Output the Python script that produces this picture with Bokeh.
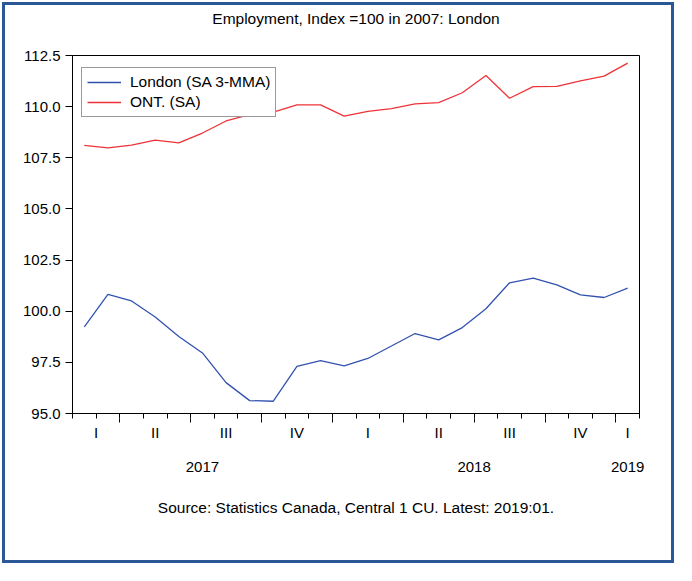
from bokeh.plotting import figure
from bokeh.models import (Range1d, FixedTicker, LinearAxis, Legend, LegendItem,
                          NumeralTickFormatter)
from bokeh.embed import file_html
from bokeh.resources import INLINE

# ---------------- data ----------------
months = ["2017:02", "2017:03", "2017:04", "2017:05", "2017:06", "2017:07",
          "2017:08", "2017:09", "2017:10", "2017:11", "2017:12", "2018:01",
          "2018:02", "2018:03", "2018:04", "2018:05", "2018:06", "2018:07",
          "2018:08", "2018:09", "2018:10", "2018:11", "2018:12", "2019:01"]
london = [99.23, 100.82, 100.50, 99.72, 98.76, 97.96, 96.51, 95.63, 95.60,
          97.30, 97.58, 97.33, 97.69, 98.30, 98.91, 98.60, 99.20, 100.12,
          101.39, 101.62, 101.29, 100.80, 100.67, 101.13]
ont = [108.11, 107.98, 108.12, 108.36, 108.23, 108.71, 109.30, 109.61, 109.73,
       110.09, 110.09, 109.54, 109.77, 109.90, 110.14, 110.20, 110.68, 111.52,
       110.41, 110.98, 110.99, 111.26, 111.49, 112.13]
y_ticks = [95.0, 97.5, 100.0, 102.5, 105.0, 107.5, 110.0, 112.5]
roman = ["I", "II", "III", "IV"]
title_text = "Employment, Index =100 in 2007: London"
source_text = "Source: Statistics Canada, Central 1 CU. Latest: 2019:01."

# ---------------- derived axis positions ----------------
x = list(range(len(months)))
yrs = [int(m[:4]) for m in months]
mos = [int(m[5:]) for m in months]
qkeys = [(yy, (mm - 1) // 3) for yy, mm in zip(yrs, mos)]
q_order = []
for k in qkeys:
    if k not in q_order:
        q_order.append(k)
q_centers = []
for k in q_order:
    idx = [i for i, kk in enumerate(qkeys) if kk == k]
    q_centers.append(sum(idx) / len(idx))
q_labels = [roman[k[1]] for k in q_order]
y_order = []
for yy in yrs:
    if yy not in y_order:
        y_order.append(yy)
y_centers = []
for yy in y_order:
    idx = [i for i, v in enumerate(yrs) if v == yy]
    y_centers.append(sum(idx) / len(idx))
q_bounds = [i - 0.5 for i, mm in enumerate(mos) if mm in (1, 4, 7, 10) and i > 0]
m_bounds = [i - 0.5 for i in range(len(months) + 1)]

FONT = "Liberation Sans"
W, H = 676, 565

p = figure(width=W, height=H, output_backend="svg", toolbar_location=None,
           x_range=Range1d(-0.5, len(months) - 0.5), y_range=Range1d(95, 112.5),
           x_axis_type=None, y_axis_type=None,
           min_border_left=72, min_border_right=37, min_border_top=55,
           min_border_bottom=152)
# blue outer border: CSS outline on the plot element, visible through a
# transparent border area
p.styles = {"outline": "3px solid #2B5797", "outline-offset": "-5px",
            "background-color": "white"}
p.background_fill_color = "white"
p.border_fill_color = None
p.outline_line_color = "black"
p.outline_line_width = 1
p.outline_line_alpha = 1

# title as the label of a bare axis above the frame
top = LinearAxis(ticker=FixedTicker(ticks=[]), axis_line_color=None,
                 major_tick_line_color=None, minor_tick_line_color=None,
                 major_tick_out=0, minor_tick_out=0, major_label_standoff=0,
                 axis_label=title_text, axis_label_standoff=29,
                 axis_label_text_font=FONT, axis_label_text_font_size="15.5px",
                 axis_label_text_font_style="normal",
                 axis_label_text_color="black")
p.add_layout(top, "above")

# y axis
yaxis = LinearAxis(ticker=FixedTicker(ticks=y_ticks),
                   formatter=NumeralTickFormatter(format="0.0"),
                   major_tick_out=7, major_tick_in=0,
                   minor_tick_line_color=None,
                   major_label_standoff=5,
                   major_label_text_font=FONT,
                   major_label_text_font_size="15px",
                   major_label_text_color="black",
                   axis_line_color="black", major_tick_line_color="black")
p.add_layout(yaxis, "left")

# x axis: month tick marks
xa = LinearAxis(ticker=FixedTicker(ticks=[], minor_ticks=m_bounds),
                major_tick_out=0, major_tick_in=0,
                minor_tick_out=5, minor_tick_in=0,
                major_label_standoff=0,
                axis_line_color="black", minor_tick_line_color="black")
p.add_layout(xa, "below")

# quarter tick extension + quarter labels
xb = LinearAxis(ticker=FixedTicker(ticks=q_centers, minor_ticks=q_bounds),
                major_label_overrides={c: l for c, l in zip(q_centers, q_labels)},
                major_tick_out=0, major_tick_in=0, major_tick_line_color=None,
                minor_tick_out=4, minor_tick_in=0, minor_tick_line_color="black",
                axis_line_color=None,
                major_label_standoff=1,
                major_label_text_font=FONT,
                major_label_text_font_size="15px",
                major_label_text_color="black")
p.add_layout(xb, "below")

# year labels + source note
xc = LinearAxis(ticker=FixedTicker(ticks=y_centers),
                major_label_overrides={c: str(v) for c, v in zip(y_centers, y_order)},
                axis_line_color=None, major_tick_line_color=None,
                minor_tick_line_color=None, major_tick_out=0, minor_tick_out=0,
                major_label_standoff=18,
                major_label_text_font=FONT,
                major_label_text_font_size="15px",
                major_label_text_color="black",
                axis_label=source_text,
                axis_label_standoff=24,
                axis_label_text_font=FONT,
                axis_label_text_font_size="15.5px",
                axis_label_text_font_style="normal",
                axis_label_text_color="black")
p.add_layout(xc, "below")

r1 = p.line(x, london, line_color="#3352B0", line_width=1.3)
r2 = p.line(x, ont, line_color="#EE3338", line_width=1.3)

legend = Legend(items=[LegendItem(label="London (SA 3-MMA)", renderers=[r1]),
                       LegendItem(label="ONT. (SA)", renderers=[r2])],
                location=(9, 296), margin=0, padding=5, spacing=2,
                label_height=16, glyph_height=16, glyph_width=34,
                label_standoff=9,
                label_text_font=FONT, label_text_font_size="15.5px",
                label_text_color="black",
                border_line_color="#333333", border_line_width=1,
                background_fill_color="white", background_fill_alpha=1)
p.add_layout(legend)

open("out.html", "w").write(file_html(p, INLINE))
